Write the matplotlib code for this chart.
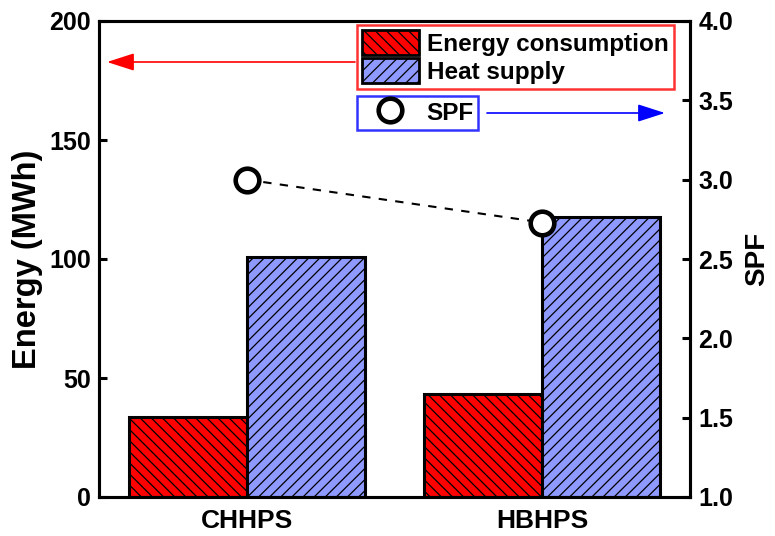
import matplotlib
matplotlib.use("Agg")
import matplotlib.pyplot as plt
from matplotlib.patches import Patch
from matplotlib.lines import Line2D
import numpy as np

plt.rcParams['font.family'] = ['Liberation Sans', 'DejaVu Sans']
plt.rcParams['font.weight'] = 'bold'
plt.rcParams['hatch.linewidth'] = 0.9

categories = ["CHHPS", "HBHPS"]
energy_consumption = [33.6, 43.3]
heat_supply = [100.8, 117.6]
spf = [3.0, 2.73]

red = '#FF0000'
blue = '#8E9AFF'

fig = plt.figure(figsize=(7.75, 5.36), dpi=100)
ax = fig.add_axes([99/775, 1-497/536, (690-99)/775, (497-21)/536])
ax2 = ax.twinx()

x = np.arange(len(categories))
w = 0.4
ax.bar(x - w/2, energy_consumption, w, color=red, edgecolor='black', linewidth=2.2,
       hatch='\\\\\\', zorder=2)
ax.bar(x + w/2, heat_supply, w, color=blue, edgecolor='black', linewidth=2.2,
       hatch='///', zorder=2)

ax2.plot(x, spf, linestyle=(0, (4, 4)), color='black', linewidth=1.5,
         marker='o', markersize=17, markerfacecolor='white',
         markeredgecolor='black', markeredgewidth=3.3, zorder=5)

ax.set_xlim(-0.5, 1.5)
ax.set_ylim(0, 200)
ax.set_yticks([0, 50, 100, 150, 200])
ax2.set_ylim(1.0, 4.0)
ax2.set_yticks(np.arange(1.0, 4.01, 0.5))
ax2.set_yticklabels([f"{v:.1f}" for v in np.arange(1.0, 4.01, 0.5)])

ax.set_xticks(x)
ax.set_xticklabels(categories, fontsize=19, fontweight='bold')
ax.tick_params(axis='x', length=0, pad=9)
ax.tick_params(axis='y', direction='in', length=6, width=2.2, labelsize=18, pad=6)
ax2.tick_params(axis='y', direction='in', length=6, width=2.2, labelsize=18, pad=6)

for a in (ax, ax2):
    for s in a.spines.values():
        s.set_linewidth(2.2)

ax.set_ylabel("Energy (MWh)", fontsize=23.5, fontweight='bold', labelpad=4)
ax2.set_ylabel("SPF", fontsize=20, fontweight='bold', labelpad=8)

# legends
h1 = [Patch(facecolor=red, edgecolor='black', hatch='\\\\\\', linewidth=2),
      Patch(facecolor=blue, edgecolor='black', hatch='///', linewidth=2)]
leg1 = fig.legend(h1, ["Energy consumption", "Heat supply"],
                  loc='upper left', bbox_to_anchor=(357/775, 1-25/536),
                  fontsize=17.5, frameon=True, fancybox=False,
                  edgecolor=red, handlelength=2.34, handleheight=1.2,
                  handletextpad=0.35, borderpad=0.2, labelspacing=0.12,
                  borderaxespad=0)
leg1.get_frame().set_linewidth(1.8)
leg1.get_frame().set_facecolor('white')

h2 = [Line2D([], [], linestyle='none', marker='o', markersize=17,
             markerfacecolor='white', markeredgecolor='black', markeredgewidth=3.3)]
leg2 = fig.legend(h2, ["SPF"], loc='upper left',
                  bbox_to_anchor=(357/775, 1-96/536),
                  fontsize=17.5, frameon=True, fancybox=False,
                  edgecolor='blue', handlelength=2.34, handleheight=1.0,
                  handletextpad=0.3, borderpad=0.2, borderaxespad=0)
leg2.get_frame().set_linewidth(1.8)

# arrows (figure pixel coords)
fig.add_artist(matplotlib.patches.FancyArrowPatch(
    (355/775, 1-62/536), (107/775, 1-62/536), transform=fig.transFigure,
    arrowstyle='-|>,head_length=1.4,head_width=0.45', mutation_scale=12,
    color=red, linewidth=1.2, shrinkA=0, shrinkB=0))
fig.add_artist(matplotlib.patches.FancyArrowPatch(
    (487/775, 1-113/536), (665/775, 1-113/536), transform=fig.transFigure,
    arrowstyle='-|>,head_length=1.4,head_width=0.45', mutation_scale=12,
    color='blue', linewidth=1.2, shrinkA=0, shrinkB=0))

fig.savefig("out.png", dpi=100)
